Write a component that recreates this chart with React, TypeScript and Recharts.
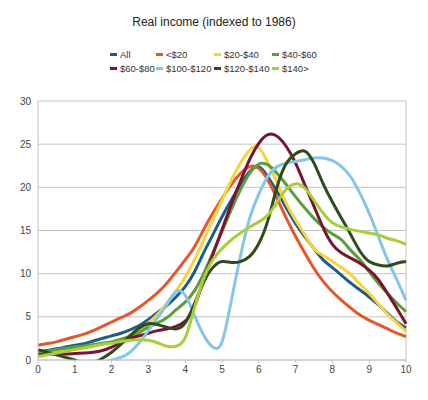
import React from 'react';
import { LineChart, Line, XAxis, YAxis, CartesianGrid, ReferenceLine } from 'recharts';

// x positions (years-ish scale 0..10) and one value list per income band
const xValues = [0, 0.25, 0.5, 0.75, 1, 1.25, 1.5, 1.75, 2, 2.25, 2.5, 2.75, 3, 3.25, 3.5, 3.75, 4, 4.25, 4.5, 4.75, 5, 5.25, 5.5, 5.75, 6, 6.25, 6.5, 6.75, 7, 7.25, 7.5, 7.75, 8, 8.25, 8.5, 8.75, 9, 9.25, 9.5, 9.75, 10];

const allIncome = [1.0, 1.1, 1.3, 1.5, 1.7, 1.9, 2.2, 2.5, 2.8, 3.1, 3.5, 4.0, 4.7, 5.5, 6.3, 7.3, 8.5, 10.2, 12.4, 14.5, 16.6, 18.5, 20.3, 21.8, 22.4, 21.2, 19.5, 17.6, 15.8, 14.3, 12.9, 11.6, 10.7, 9.8, 8.9, 8.1, 7.3, 6.4, 5.4, 4.4, 3.7];
const under20 = [1.7, 1.9, 2.1, 2.4, 2.7, 3.0, 3.4, 3.9, 4.4, 4.9, 5.4, 6.1, 6.9, 7.8, 8.9, 10.2, 11.6, 13.1, 15.1, 17.0, 18.7, 20.3, 21.6, 22.4, 22.2, 20.8, 18.7, 16.4, 14.3, 12.4, 10.6, 9.1, 7.9, 6.9, 6.0, 5.2, 4.6, 4.1, 3.6, 3.1, 2.7];
const band20to40 = [0.6, 0.8, 0.95, 1.15, 1.35, 1.5, 1.7, 1.9, 2.1, 2.4, 2.9, 3.5, 4.3, 5.3, 6.6, 8.0, 9.6, 11.6, 13.9, 16.2, 18.5, 20.8, 22.8, 24.3, 24.6, 22.8, 20.5, 18.1, 16.2, 14.5, 12.9, 12.1, 11.4, 10.7, 9.9, 8.8, 7.7, 6.5, 5.3, 4.3, 3.3];
const band40to60 = [0.8, 1.0, 1.2, 1.35, 1.5, 1.65, 1.8, 1.95, 2.1, 2.4, 2.7, 3.2, 3.8, 4.3, 4.9, 5.8, 6.7, 8.0, 10.0, 12.4, 14.9, 17.4, 19.7, 21.6, 22.7, 22.6, 21.6, 20.3, 18.9, 17.6, 16.4, 15.4, 14.6, 13.9, 12.7, 11.6, 10.2, 8.9, 7.7, 6.6, 5.6];
const band60to80 = [0.6, 0.65, 0.7, 0.7, 0.75, 0.8, 0.9, 1.1, 1.5, 2.0, 2.5, 2.8, 3.1, 3.4, 3.6, 3.9, 4.5, 6.2, 9.3, 12.2, 15.1, 18.0, 20.7, 23.2, 25.1, 26.1, 25.9, 24.7, 22.8, 20.3, 17.8, 15.3, 13.4, 12.4, 11.8, 11.2, 10.4, 9.3, 7.7, 6.0, 4.2];
const band100to120 = [-1.5, -1.5, -1.5, -1.5, -1.4, -1.2, -0.9, -0.5, 0.0, 0.3, 0.9, 2.0, 3.4, 4.9, 6.4, 7.9, 7.5, 5.2, 2.9, 1.5, 2.1, 6.8, 12.0, 16.4, 19.2, 21.3, 22.4, 22.8, 23.0, 23.2, 23.4, 23.4, 23.1, 22.4, 21.2, 19.3, 17.0, 14.3, 11.6, 9.3, 6.9];
const band120to140 = [1.2, 0.9, 0.6, 0.3, 0.0, -0.4, -0.3, 0.2, 0.9, 1.8, 2.8, 3.7, 4.2, 4.1, 3.8, 3.6, 4.3, 6.5, 9.0, 10.7, 11.4, 11.3, 11.4, 12.0, 13.5, 16.2, 20.1, 22.8, 23.9, 24.2, 22.8, 20.4, 18.3, 16.4, 14.5, 12.6, 11.4, 11.0, 10.9, 11.2, 11.4];
const over140 = [0.4, 0.6, 0.8, 1.0, 1.2, 1.4, 1.6, 1.8, 1.95, 2.15, 2.3, 2.35, 2.3, 2.0, 1.6, 1.6, 2.6, 6.0, 9.4, 11.6, 12.9, 13.9, 14.7, 15.4, 16.0, 16.8, 18.3, 19.8, 20.4, 19.9, 18.5, 17.0, 15.9, 15.4, 15.1, 14.9, 14.7, 14.5, 14.1, 13.8, 13.4];

const xTicks = [0, 1, 2, 3, 4, 5, 6, 7, 8, 9, 10];
const yTicks = [0, 5, 10, 15, 20, 25, 30];

const series = [
  { key: 'all', name: 'All', color: '#1d5b8a', values: allIncome },
  { key: 'u20', name: '<$20', color: '#e8552b', values: under20 },
  { key: 'b20', name: '$20-$40', color: '#f8d33c', values: band20to40 },
  { key: 'b40', name: '$40-$60', color: '#5c9e3a', values: band40to60 },
  { key: 'b60', name: '$60-$80', color: '#7a1331', values: band60to80 },
  { key: 'b100', name: '$100-$120', color: '#84c5ea', values: band100to120 },
  { key: 'b120', name: '$120-$140', color: '#2f4a1b', values: band120to140 },
  { key: 'o140', name: '$140>', color: '#a9ce3b', values: over140 },
];

const data = xValues.map((x, i) => {
  const row: Record<string, number> = { x };
  series.forEach((s) => {
    row[s.key] = s.values[i];
  });
  return row;
});

const legendCols = [110, 156, 214, 272];
const font = 'Arial, "Liberation Sans", sans-serif';

const App: React.FC = () => {
  return (
    <div style={{ position: 'absolute', left: 0, top: 0, width: 428, height: 400, background: '#fff', fontFamily: font }}>
      <div style={{ position: 'absolute', top: 15, left: 0, width: 428, textAlign: 'center', fontSize: 12, color: '#222' }}>
        Real income (indexed to 1986)
      </div>
      {series.map((s, i) => (
        <div
          key={s.key}
          style={{
            position: 'absolute',
            left: legendCols[i % 4],
            top: i < 4 ? 49 : 63,
            fontSize: 9.5,
            color: '#333',
            display: 'flex',
            alignItems: 'center',
            whiteSpace: 'nowrap',
          }}
        >
          <span style={{ display: 'inline-block', width: 7, height: 3, background: s.color, marginRight: 3 }} />
          {s.name}
        </div>
      ))}
      <LineChart width={428} height={400} data={data} margin={{ top: 101, right: 22, bottom: 10, left: 8 }}>
        <CartesianGrid vertical={false} stroke='#c4c4c4' />
        <XAxis
          dataKey='x'
          type='number'
          domain={[0, 10]}
          ticks={xTicks}
          height={30}
          stroke='#c4c4c4'
          tickSize={3}
          tickMargin={3}
          tick={{ fill: '#444', fontSize: 10, fontFamily: font }}
        />
        <YAxis
          domain={[0, 30]}
          ticks={yTicks}
          allowDataOverflow
          width={30}
          stroke='#c4c4c4'
          tickSize={0}
          tickMargin={7}
          tick={{ fill: '#444', fontSize: 10, fontFamily: font }}
        />
        <ReferenceLine x={10} stroke='#c4c4c4' />
        {series.map((s) => (
          <Line
            key={s.key}
            type='natural'
            dataKey={s.key}
            name={s.name}
            stroke={s.color}
            strokeWidth={3}
            dot={false}
            isAnimationActive={false}
          />
        ))}
      </LineChart>
    </div>
  );
};

export default App;
